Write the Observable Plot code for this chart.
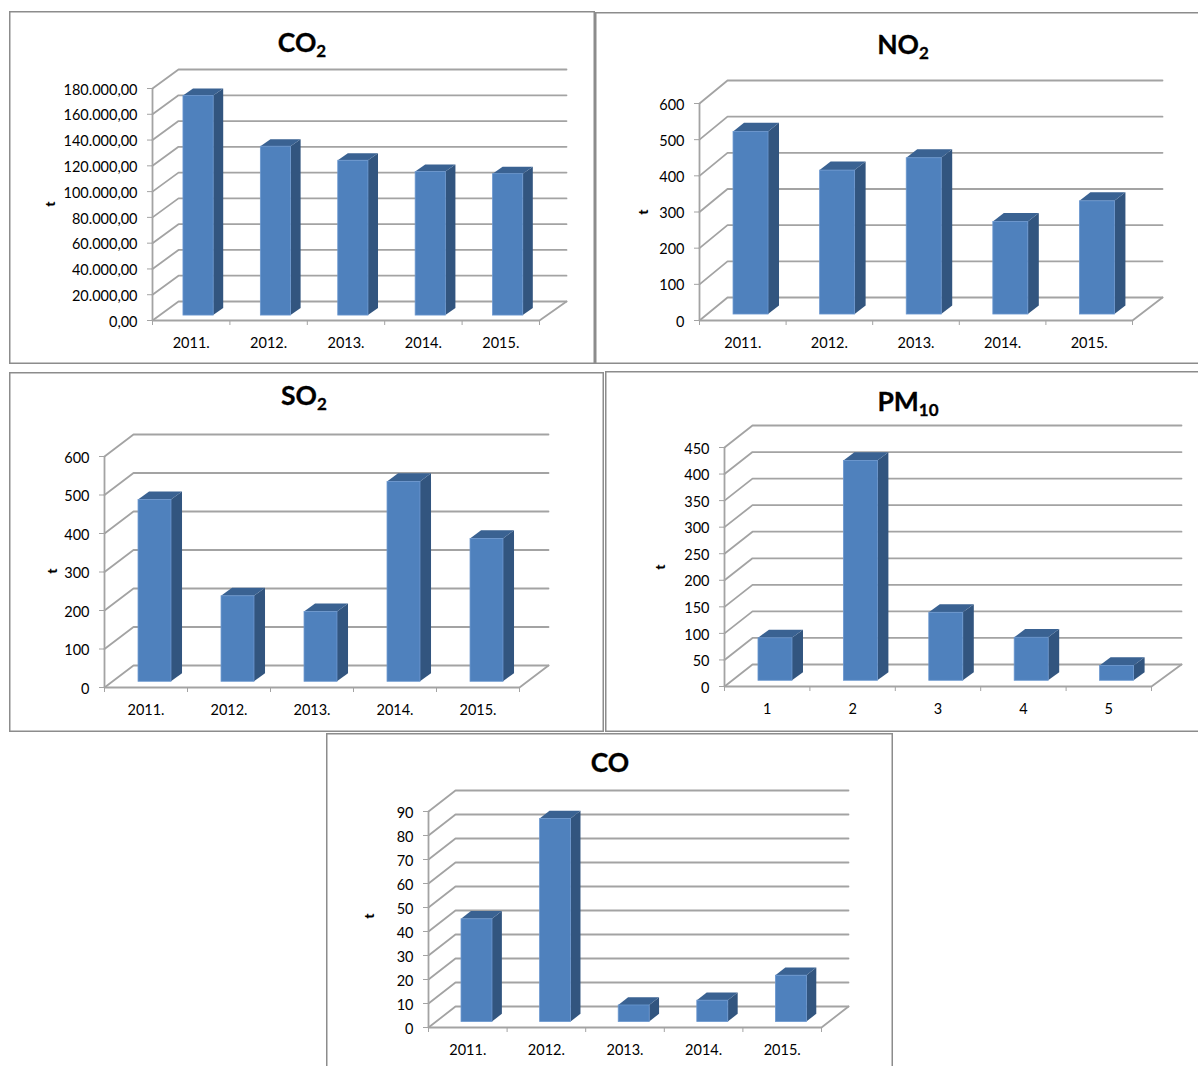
<!DOCTYPE html>
<html>
<head>
<meta charset="utf-8">
<script src="https://cdn.jsdelivr.net/npm/d3@7"></script>
<script src="https://cdn.jsdelivr.net/npm/@observablehq/plot@0.6"></script>
<style>
html,body{margin:0;padding:0;background:#fff;}
#page{position:relative;width:1198px;height:1066px;overflow:hidden;font-family:Lato,"Noto Sans",sans-serif;}
.panel{position:absolute;box-sizing:border-box;box-shadow:inset 0 0 0 1.5px #8c8c8c;background:#fff;}
.panel svg{position:absolute;left:0;top:0;overflow:visible;font-family:Lato,"Noto Sans",sans-serif;}
.title{position:absolute;transform:translate(-50%,-50%);font-weight:700;font-size:26.5px;line-height:30px;white-space:nowrap;color:#000;-webkit-text-stroke:0.3px #000;}
.title sub{font-size:17px;line-height:0;vertical-align:-5px;}
.unit{position:absolute;transform:translate(-50%,-50%) rotate(-90deg);font-weight:900;font-size:14px;color:#000;}
</style>
</head>
<body>
<div id="page"></div>
<script>
// ---------- chart values ----------
const years = ["2011.", "2012.", "2013.", "2014.", "2015."];
const indices = ["1", "2", "3", "4", "5"];

const co2Values = [170400, 131000, 120100, 111300, 109700];
const no2Values = [505, 398, 432, 256, 313];
const so2Values = [472, 222, 181, 519, 371];
const pm10Values = [80, 414, 128, 81, 28];
const coValues = [42.8, 84.6, 6.9, 8.9, 19.3];

const co2Ticks = [0, 20000, 40000, 60000, 80000, 100000, 120000, 140000, 160000, 180000];
const co2TickLabels = ["0,00", "20.000,00", "40.000,00", "60.000,00", "80.000,00", "100.000,00", "120.000,00", "140.000,00", "160.000,00", "180.000,00"];
const no2Ticks = [0, 100, 200, 300, 400, 500, 600];
const so2Ticks = [0, 100, 200, 300, 400, 500, 600];
const pm10Ticks = [0, 50, 100, 150, 200, 250, 300, 350, 400, 450];
const coTicks = [0, 10, 20, 30, 40, 50, 60, 70, 80, 90];

// ---------- layout (page pixels) ----------
const panels = [
  {name: "CO", sub: "2", values: co2Values, cats: years, ticks: co2Ticks, labels: co2TickLabels, bar: [0.40, 0.79, 0.92],
   box: [9, 11, 595, 364], axisX: 152, catEnd: 539, backX: 178, backEnd: 566, y0: 320, yTop: 88, backTop: 69, title: [302, 42], unit: [49, 204]},
  {name: "NO", sub: "2", values: no2Values, cats: years, ticks: no2Ticks, bar: [0.393, 0.797, 0.924],
   box: [595, 12, 1204, 364], axisX: 699, catEnd: 1132, backX: 727, backEnd: 1162, y0: 320, yTop: 103, backTop: 80, title: [903, 44], unit: [642, 212]},
  {name: "SO", sub: "2", values: so2Values, cats: years, ticks: so2Ticks, bar: [0.41, 0.807, 0.94],
   box: [9, 372, 604, 732], axisX: 104, catEnd: 519, backX: 133, backEnd: 548, y0: 687, yTop: 456, backTop: 434, title: [304, 395], unit: [51, 571]},
  {name: "PM", sub: "10", values: pm10Values, cats: indices, ticks: pm10Ticks, bar: [0.398, 0.796, 0.925],
   box: [605, 371, 1204, 732], axisX: 724, catEnd: 1151, backX: 752, backEnd: 1181, y0: 686, yTop: 447, backTop: 425, title: [908, 401], unit: [659, 567]},
  {name: "CO", sub: "", values: coValues, cats: years, ticks: coTicks, bar: [0.42, 0.814, 0.94],
   box: [326, 733, 893, 1080], axisX: 428, catEnd: 821, backX: 455, backEnd: 848, y0: 1027, yTop: 811, backTop: 790, title: [610, 762], unit: [368, 916]}
];

const barNear = 0.26, barFar = 0.63;                       // fractions of the floor depth
const gridColor = "#a3a3a3";
const frontColor = "#4f81bd", sideColor = "#32557f", topColor = "#3a6292", edgeColor = "#6b97cf";

const page = document.getElementById("page");

for (const p of panels) {
  const [bx0, by0, bx1, by1] = p.box;
  const [barLeft, barRight, barSide] = p.bar;
  const panel = document.createElement("div");
  panel.className = "panel";
  panel.style.cssText = `left:${bx0}px;top:${by0}px;width:${bx1 - bx0}px;height:${by1 - by0}px;`;
  page.appendChild(panel);

  const n = p.cats.length;
  const band = (p.catEnd - p.axisX) / n;
  const dX = (p.backX - p.axisX) / band;                 // floor depth in category units
  const yMax = p.ticks[p.ticks.length - 1];
  const depthPx = p.yTop - p.backTop;
  const dY = depthPx / (p.y0 - p.yTop) * yMax;           // floor depth in value units
  const xEnd = (p.backEnd - p.axisX) / band;

  const grid = p.ticks.flatMap((v) => [
    {v, x: 0, y: v},
    {v, x: dX, y: v + dY},
    {v, x: xEnd, y: v + dY}
  ]);

  const bars = p.values.map((v, i) => ({
    i, v,
    x1: i + barLeft, x2: i + barRight, x3: i + barSide,
    y1: dY * barNear, y2: v + dY * barNear
  }));
  const offX = barSide - barRight;
  const side = bars.flatMap((b) => [
    {i: b.i, x: b.x2, lo: dY * barNear, hi: b.v + dY * barNear},
    {i: b.i, x: b.x3, lo: dY * barFar, hi: b.v + dY * barFar}
  ]);
  const top = bars.flatMap((b) => {
    const a = b.v + dY * barNear, c = b.v + dY * barFar;
    return [
      {i: b.i, x: b.x1, lo: a, hi: a},
      {i: b.i, x: b.x1 + offX, lo: a, hi: c},
      {i: b.i, x: b.x2, lo: a, hi: c},
      {i: b.i, x: b.x3, lo: c, hi: c}
    ];
  });

  const catTicks = d3.range(0, n + 1);
  const catCenters = d3.range(n).map((i) => i + 0.5);
  const tickText = (d) => p.labels ? p.labels[p.ticks.indexOf(d)] : String(d);

  const svg = Plot.plot({
    width: bx1 - bx0,
    height: by1 - by0,
    marginLeft: p.axisX - bx0,
    marginRight: bx1 - p.backEnd,
    marginTop: p.backTop - by0,
    marginBottom: by1 - p.y0,
    x: {type: "linear", domain: [0, xEnd]},
    y: {type: "linear", domain: [0, yMax + dY]},
    style: {background: "transparent", fontSize: "14.5px"},
    marks: [
      Plot.line(grid, {x: "x", y: "y", z: "v", stroke: gridColor, strokeWidth: 1.8, curve: "linear"}),
      Plot.line([{x: 0, y: 0}, {x: n, y: 0}, {x: xEnd, y: dY}], {x: "x", y: "y", stroke: gridColor, strokeWidth: 1.8}),
      Plot.ruleX([0], {y1: 0, y2: yMax, stroke: gridColor, strokeWidth: 1.8}),
      Plot.areaY(side, {x: "x", y1: "lo", y2: "hi", z: "i", fill: sideColor, curve: "linear"}),
      Plot.areaY(top, {x: "x", y1: "lo", y2: "hi", z: "i", fill: topColor, curve: "linear"}),
      Plot.rect(bars, {x1: "x1", x2: "x2", y1: "y1", y2: "y2", fill: frontColor, stroke: edgeColor, strokeWidth: 0.8}),
      Plot.axisY({ticks: p.ticks, tickFormat: () => "", tickSize: 5, label: null, stroke: gridColor}),
      Plot.axisY({ticks: p.ticks, tickFormat: tickText, tickSize: 0, tickPadding: 15, dy: 1.5, label: null, fill: "#000", fontSize: 14.5}),
      Plot.axisX({ticks: catTicks, tickFormat: () => "", tickSize: 5, label: null, stroke: gridColor}),
      Plot.axisX({ticks: catCenters, tickFormat: (d) => p.cats[d - 0.5], tickSize: 0, tickPadding: 17, label: null, fill: "#000", fontSize: 14.5})
    ]
  });
  panel.appendChild(svg);

  const title = document.createElement("div");
  title.className = "title";
  title.style.left = (p.title[0] - bx0) + "px";
  title.style.top = (p.title[1] - by0) + "px";
  title.innerHTML = p.sub ? `${p.name}<sub>${p.sub}</sub>` : p.name;
  panel.appendChild(title);

  const unit = document.createElement("div");
  unit.className = "unit";
  unit.style.left = (p.unit[0] - bx0) + "px";
  unit.style.top = (p.unit[1] - by0) + "px";
  unit.textContent = "t";
  panel.appendChild(unit);
}
</script>
</body>
</html>
